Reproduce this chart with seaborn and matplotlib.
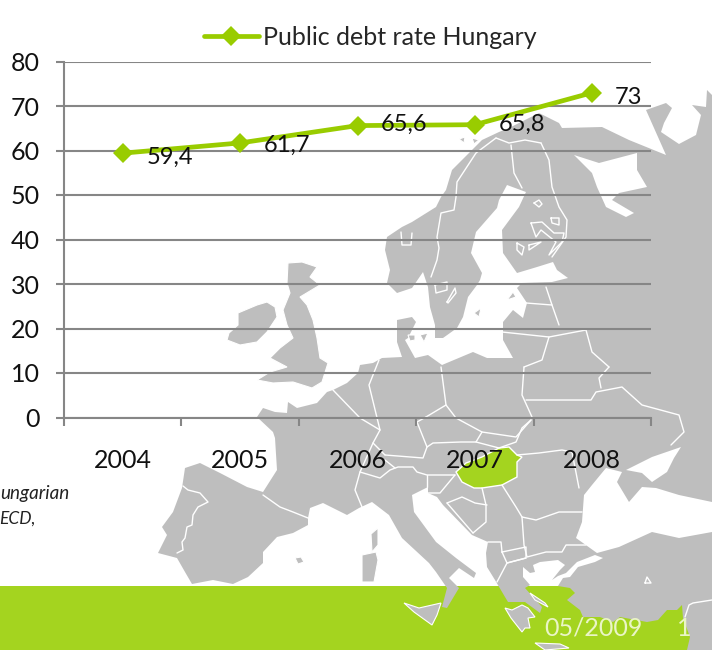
import matplotlib
matplotlib.use("Agg")
import matplotlib.pyplot as plt
from matplotlib.patches import Polygon, Rectangle
import pandas as pd
import seaborn as sns

## DATA
years = ["2004", "2005", "2006", "2007", "2008"]
debt_rate = [59.4, 61.7, 65.6, 65.8, 73]
point_labels = ["59,4", "61,7", "65,6", "65,8", "73"]
y_ticks = [0, 10, 20, 30, 40, 50, 60, 70, 80]
series_name = "Public debt rate Hungary"

## COLOURS
grey_land = "#BEBEBE"
grey_axis = "#868686"
green_line = "#99CC00"
green_band = "#A4D41F"
text_col = "#111111"
footer_col = "#EAF5C6"

sns.set_style("white")
plt.rcParams["font.family"] = ["Lato", "DejaVu Sans"]
plt.rcParams["ytick.left"] = True
plt.rcParams["xtick.bottom"] = True

W, H = 718, 650
fig = plt.figure(figsize=(W / 100, H / 100), dpi=100)

## background map, image pixel coordinates
bg = fig.add_axes([0, 0, 1, 1], zorder=0)
bg.set_xlim(0, W)
bg.set_ylim(H, 0)
bg.axis("off")

bg.add_patch(Rectangle((0, 586), 712, 64, color=green_band, lw=0))

mainland = [(257, 417), (263, 408), (275, 412), (287, 413), (288, 402), (297, 408), (317, 403), (327, 392), (333, 390),
            (347, 383), (358, 373), (360, 365), (373, 363), (382, 358), (402, 357), (397, 342), (397, 320), (412, 317),
            (416, 322), (412, 330), (408, 338), (405, 340), (415, 358), (428, 355), (442, 365), (473, 352), (487, 358),
            (513, 358), (503, 340), (503, 322), (513, 310), (523, 318), (527, 303), (517, 288), (522, 283), (552, 282),
            (568, 278), (557, 270), (553, 262), (537, 267), (517, 273), (503, 253), (502, 230), (519, 207), (526, 192),
            (507, 185), (499, 200), (497, 208), (476, 232), (471, 253), (482, 273), (480, 280), (477, 285), (468, 297),
            (463, 317), (457, 328), (443, 338), (435, 338), (435, 325), (430, 307), (428, 287), (423, 272), (412, 288),
            (397, 293), (387, 283), (390, 270), (385, 250), (387, 237), (402, 227), (412, 222), (436, 207), (441, 197),
            (446, 190), (452, 170), (469, 153), (482, 140), (499, 132), (509, 128), (539, 113), (559, 123), (562, 128),
            (602, 127), (629, 140), (666, 155), (646, 110), (666, 103), (672, 108), (664, 123), (661, 132), (679, 144),
            (696, 135), (701, 115), (692, 105), (706, 107), (707, 90), (712, 95), (712, 650), (687, 650), (690, 637),
            (683, 618), (682, 605), (677, 610), (667, 610), (658, 620), (647, 622), (620, 617), (613, 622), (600, 617),
            (583, 617), (580, 610), (567, 600), (575, 593), (570, 588), (558, 586), (563, 578), (570, 577), (578, 567),
            (595, 562), (603, 558), (595, 555), (577, 562), (566, 573), (558, 576), (552, 580), (560, 570), (565, 565),
            (558, 560), (540, 562), (533, 565), (535, 572), (530, 573), (523, 567), (523, 577), (530, 585), (525, 588),
            (542, 607), (540, 613), (525, 602), (508, 602), (505, 597), (495, 580), (487, 567), (486, 553), (488, 542),
            (472, 535), (443, 505), (437, 497), (428, 493), (428, 487), (412, 495), (414, 512), (436, 542), (456, 558),
            (476, 573), (474, 578), (459, 568), (449, 578), (459, 588), (447, 608), (442, 607), (447, 588), (436, 572),
            (429, 563), (402, 538), (389, 515), (372, 502), (359, 508), (347, 515), (323, 503), (310, 508), (308, 518),
            (308, 525), (293, 533), (277, 537), (263, 552), (263, 563), (248, 577), (233, 584), (213, 580), (192, 584),
            (185, 572), (177, 558), (158, 553), (167, 535), (162, 527), (173, 512), (182, 488), (185, 468), (200, 463),
            (220, 473), (247, 487), (263, 492), (277, 470), (275, 438), (273, 432)]

islands = [
    [(238, 313), (257, 305), (267, 302), (275, 307), (277, 317), (267, 332), (257, 342), (240, 345), (227, 340),
     (229, 333), (238, 325)],
    [(288, 263), (302, 262), (317, 267), (310, 277), (320, 285), (300, 297), (307, 305), (313, 320), (317, 338),
     (320, 358), (328, 363), (322, 382), (312, 388), (293, 382), (273, 383), (257, 380), (270, 372), (287, 367),
     (270, 358), (280, 348), (293, 338), (287, 325), (283, 310), (290, 293), (287, 283)],
    [(404, 603), (419, 608), (441, 603), (437, 615), (432, 625), (414, 612)],  # Sicily
    [(535, 643), (560, 644), (569, 648), (545, 650)],  # Crete
    [(505, 608), (512, 610), (522, 605), (528, 608), (535, 617), (528, 618), (530, 628), (525, 628), (522, 632),
     (511, 618)],  # Peloponnese
    [(530, 593), (545, 603), (548, 607), (535, 600)],  # Evia
    [(362, 555), (376, 552), (378, 560), (374, 582), (362, 582)],  # Sardinia
    [(371, 534), (378, 528), (378, 545), (372, 552)],  # Corsica
    [(295, 558), (301, 557), (304, 562), (298, 564)],  # Balearics
    [(408, 335), (415, 335), (415, 340), (410, 341)],
    [(420, 335), (428, 333), (424, 342)],
    [(507, 300), (513, 292), (516, 297)],
    [(474, 313), (481, 308), (479, 317)],
    [(459, 139), (465, 137), (464, 143)],
    [(472, 138), (479, 140), (474, 144)],
]

seas = [
    [(584, 495), (592, 485), (606, 468), (622, 472), (617, 482), (629, 502), (642, 487), (656, 488), (679, 495),
     (712, 502), (712, 532), (679, 538), (652, 532), (619, 547), (597, 553), (576, 538), (582, 522)],
    [(626, 470), (652, 457), (681, 447), (674, 458), (667, 472), (652, 482), (642, 473)],
    [(574, 155), (599, 163), (637, 153), (637, 170), (647, 187), (619, 193), (612, 200), (634, 213), (626, 217),
     (606, 207), (597, 187), (592, 173)],
]

borders = [
    [(496, 138), (476, 153), (457, 182), (456, 197), (454, 210), (441, 213), (437, 237), (439, 248), (437, 260), (431, 277)],
    [(496, 138), (509, 143), (525, 140), (541, 143)],
    [(511, 145), (514, 173), (522, 188)],
    [(541, 143), (549, 160), (552, 187), (559, 207), (567, 220), (566, 237), (552, 257)],
    [(526, 303), (552, 305)],
    [(546, 287), (552, 305), (559, 325)],
    [(502, 332), (549, 337), (586, 330), (592, 352), (609, 367)],
    [(524, 367), (542, 360), (549, 337)],
    [(524, 367), (522, 395), (532, 417)],
    [(526, 400), (572, 400), (591, 400), (596, 392), (622, 387), (642, 405), (679, 415), (684, 432), (671, 445)],
    [(609, 367), (599, 378), (601, 388)],
    [(441, 367), (446, 405), (426, 417)],
    [(446, 405), (456, 418), (482, 432), (516, 437), (531, 420)],
    [(417, 422), (427, 447), (433, 443), (461, 442), (476, 442), (482, 432)],
    [(476, 442), (499, 448), (516, 442), (522, 428), (531, 420)],
    [(517, 455), (539, 453), (562, 450), (572, 452), (579, 488)],
    [(502, 485), (516, 507), (522, 517), (536, 520), (559, 512), (582, 512)],
    [(522, 517), (524, 545), (527, 557), (546, 552), (562, 552), (566, 545), (586, 545)],
    [(497, 582), (507, 563), (526, 558)],
    [(502, 552), (507, 563), (526, 558), (526, 547), (502, 552)],
    [(488, 542), (501, 542), (502, 552)],
    [(482, 488), (486, 505), (486, 522), (473, 533)],
    [(447, 503), (462, 497), (475, 503), (487, 505)],
    [(447, 503), (473, 533)],
    [(427, 475), (427, 487)],
    [(455, 475), (440, 493), (427, 493)],
    [(360, 472), (380, 478), (390, 470), (398, 467), (413, 467), (417, 472), (427, 475), (455, 475)],
    [(385, 460), (395, 468)],
    [(385, 455), (423, 458), (427, 447)],
    [(360, 418), (380, 430), (373, 443), (385, 455)],
    [(373, 443), (360, 472), (355, 490), (362, 507)],
    [(417, 422), (426, 417)],
    [(333, 390), (360, 418)],
    [(380, 430), (369, 385), (379, 360)],
    [(263, 495), (280, 507), (293, 512), (308, 518)],
    [(183, 486), (188, 490), (200, 493), (208, 502), (198, 507), (193, 515), (192, 525), (187, 527), (185, 538),
     (182, 542), (183, 550), (177, 553)],
    [(712, 600), (693, 603), (689, 605), (685, 617)],
    # lakes
    [(534, 203), (539, 200), (542, 204), (539, 207), (534, 203)],
    [(551, 218), (559, 218), (559, 225), (552, 223), (551, 218)],
    [(531, 223), (542, 222), (554, 233), (564, 233), (562, 242), (549, 255), (556, 242), (541, 230), (536, 237), (531, 223)],
    [(517, 243), (524, 247), (522, 255), (517, 250), (517, 243)],
    [(529, 245), (541, 242), (529, 250), (529, 245)],
    [(401, 232), (402, 245), (411, 245), (412, 233)],
    [(435, 285), (447, 282), (447, 290), (436, 293), (435, 285)],
    [(447, 302), (455, 288), (456, 293), (448, 303), (447, 302)],
    [(645, 583), (647, 577), (651, 583), (645, 583)],
]

bg.add_patch(Polygon(mainland, closed=True, fc=grey_land, ec="none"))
for isl in islands:
    bg.add_patch(Polygon(isl, closed=True, fc=grey_land, ec="white", lw=0.8))
for sea in seas:
    bg.add_patch(Polygon(sea, closed=True, fc="white", ec="none"))
for b in borders:
    bg.plot([p[0] for p in b], [p[1] for p in b], color="white", lw=1, solid_joinstyle="round")

hungary = [(456, 472), (466, 463), (482, 457), (499, 448), (509, 447), (517, 455), (522, 457), (517, 462), (517, 477),
           (502, 485), (482, 488), (474, 488), (462, 482)]
bg.add_patch(Polygon(hungary, closed=True, fc=green_band, ec="white", lw=1))

## cut-off italic source text and footer
bg.text(69, 493, "ungarian", style="italic", fontsize=13.6, ha="right", va="center", color="#222222")
bg.text(36, 519, "ECD,", style="italic", fontsize=12.5, ha="right", va="center", color="#222222")
bg.text(593, 628, "05/2009", fontsize=18, ha="center", va="center", color=footer_col)
bg.text(684, 628, "1", fontsize=18, ha="center", va="center", color=footer_col)

## chart
ax = fig.add_axes([64 / W, 1 - 417.5 / H, (651 - 64) / W, (417.5 - 61.5) / H], zorder=2)
ax.patch.set_visible(False)

df = pd.DataFrame({"year": years, "rate": debt_rate})
sns.lineplot(data=df, x="year", y="rate", ax=ax, color=green_line, lw=3.4, marker="D", markersize=10.5,
             markeredgewidth=0, label=series_name, zorder=3, sort=False)

ax.set_xlim(-0.5, 4.5)
ax.set_ylim(0, 80)
ax.set_xlabel("")
ax.set_ylabel("")

ax.set_yticks(y_ticks)
ax.set_yticklabels([str(v) for v in y_ticks], fontsize=18, color=text_col)

# ticks between the years, labels centred on them
ax.set_xticks([i - 0.5 for i in range(len(years) + 1)])
ax.set_xticklabels([])
ax.set_xticks(range(len(years)), labels=years, minor=True)
ax.tick_params(axis="x", which="major", bottom=True, length=6, width=1.5, color=grey_axis)
ax.tick_params(axis="x", which="minor", bottom=False, pad=21, labelsize=18, labelcolor=text_col)

ax.grid(axis="y", color=grey_axis, lw=1.5)
ax.set_axisbelow(True)
for s in ["top", "right"]:
    ax.spines[s].set_visible(False)
for s in ["left", "bottom"]:
    ax.spines[s].set_color(grey_axis)
    ax.spines[s].set_linewidth(1.5)
ax.tick_params(axis="y", which="major", left=True, length=6, width=1.5, color=grey_axis, pad=11.5)

for i, (v, txt) in enumerate(zip(debt_rate, point_labels)):
    dx = 47 if txt != "73" else 36
    dy = {"59,4": -4, "61,7": -2, "65,6": 1, "65,8": 0, "73": -5}[txt]
    ax.annotate(txt, (i, v), xytext=(dx * 0.72, dy * 0.72), textcoords="offset points", ha="center", va="center",
                fontsize=17, color=text_col, zorder=4)

ax.legend(loc="lower left", bbox_to_anchor=(0.2385, 1.035), frameon=False, fontsize=18, handlelength=2.2,
          handletextpad=0.16, borderaxespad=0, borderpad=0)

fig.savefig("out.png", dpi=100)
